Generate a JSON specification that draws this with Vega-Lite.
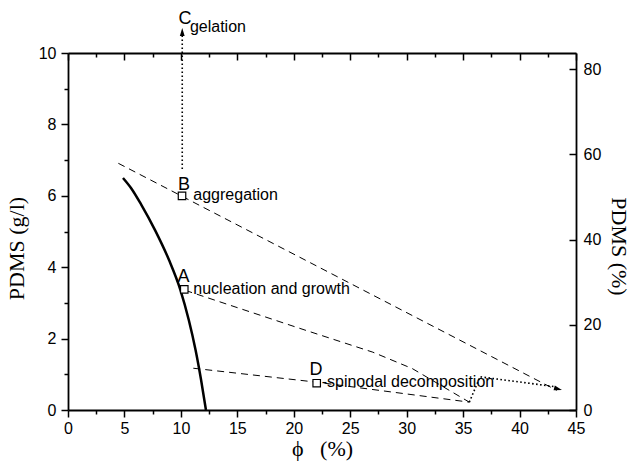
{
  "$schema": "https://vega.github.io/schema/vega-lite/v6.json",
  "width": 508,
  "height": 357,
  "autosize": "none",
  "padding": {"left": 68, "top": 53, "right": 58, "bottom": 56},
  "background": "white",
  "config": {
    "view": {"stroke": null},
    "axis": {
      "grid": false,
      "domainColor": "black",
      "domainWidth": 1.8,
      "tickColor": "black",
      "tickWidth": 1.5,
      "labelFont": "Liberation Sans",
      "labelFontSize": 16,
      "labelColor": "black",
      "labelFlush": false,
      "labelOverlap": false,
      "titleFont": "Liberation Serif",
      "titleFontSize": 22,
      "titleFontWeight": "normal",
      "titleColor": "black"
    },
    "text": {"font": "Liberation Sans", "color": "black"}
  },
  "datasets": {
    "curve": [
      {"x": 4.87, "y": 6.5},
      {"x": 5.58, "y": 6.22},
      {"x": 6.51, "y": 5.74},
      {"x": 7.71, "y": 5.04},
      {"x": 8.95, "y": 4.2},
      {"x": 9.96, "y": 3.36},
      {"x": 10.7, "y": 2.52},
      {"x": 11.3, "y": 1.68},
      {"x": 11.79, "y": 0.84},
      {"x": 12.22, "y": 0.0}
    ],
    "dashed": [
      {"line": "upper", "x": 4.46, "y": 6.91},
      {"line": "upper", "x": 43.3, "y": 0.55},
      {"line": "middle", "x": 10.4, "y": 3.35},
      {"line": "middle", "x": 20.5, "y": 2.29},
      {"line": "middle", "x": 27.0, "y": 1.62},
      {"line": "middle", "x": 30.5, "y": 1.16},
      {"line": "middle", "x": 35.55, "y": 0.22},
      {"line": "lower", "x": 11.1, "y": 1.17},
      {"line": "lower", "x": 22.0, "y": 0.78},
      {"line": "lower", "x": 35.55, "y": 0.22}
    ],
    "dotted": [
      {"line": "gel", "x": 10.12, "y": 6.75},
      {"line": "gel", "x": 10.12, "y": 10.5},
      {"line": "spin", "x": 35.55, "y": 0.22},
      {"line": "spin", "x": 36.5, "y": 0.93},
      {"line": "spin", "x": 43.0, "y": 0.66}
    ],
    "squares": [
      {"name": "B", "x": 10.1, "y": 6.0},
      {"name": "A", "x": 10.3, "y": 3.38},
      {"name": "D", "x": 22.03, "y": 0.75}
    ],
    "letters": [
      {"t": "C", "x": 10.36, "y": 10.81},
      {"t": "B", "x": 10.27, "y": 6.16},
      {"t": "A", "x": 10.23, "y": 3.59},
      {"t": "D", "x": 21.97, "y": 0.98}
    ],
    "words": [
      {"t": "gelation", "x": 10.8, "y": 10.6},
      {"t": "aggregation", "x": 11.1, "y": 5.88},
      {"t": "nucleation and growth", "x": 11.1, "y": 3.25},
      {"t": "-spinodal decomposition", "x": 22.47, "y": 0.65}
    ],
    "arrowUp": [{"x": 10.12, "y": 10.59}],
    "arrowRight": [{"x": 43.41, "y": 0.59}],
    "pct": [{"p": 0}, {"p": 80}]
  },
  "resolve": {"scale": {"y": "independent"}, "axis": {"x": "independent", "y": "independent"}},
  "layer": [
    {
      "resolve": {"axis": {"x": "independent", "y": "independent"}},
      "layer": [
        {
          "data": {"name": "curve"},
          "mark": {"type": "line", "color": "black", "strokeWidth": 2.5, "interpolate": "monotone"},
          "encoding": {
            "x": {"field": "x", "type": "quantitative", "scale": {"domain": [0, 45], "nice": false},
              "axis": {"orient": "bottom", "values": [0, 5, 10, 15, 20, 25, 30, 35, 40, 45], "tickSize": 7, "labelPadding": 3, "title": "ϕ\u00a0\u00a0 (%)", "titlePadding": 2}},
            "y": {"field": "y", "type": "quantitative", "scale": {"domain": [0, 10], "nice": false},
              "axis": {"orient": "left", "values": [0, 2, 4, 6, 8, 10], "tickSize": 7, "labelPadding": 5, "title": "PDMS (g/l)", "titlePadding": 10, "titleY": 195}}
          }
        },
        {
          "data": {"name": "curve"},
          "mark": {"type": "point", "opacity": 0},
          "encoding": {
            "x": {"field": "x", "type": "quantitative", "scale": {"domain": [0, 45], "nice": false},
              "axis": {"orient": "top", "values": [0, 5, 10, 15, 20, 25, 30, 35, 40, 45], "tickSize": -7, "labels": false, "title": null}},
            "y": {"field": "y", "type": "quantitative", "scale": {"domain": [0, 10], "nice": false},
              "axis": {"orient": "left", "values": [1, 3, 5, 7, 9], "tickSize": 4, "labels": false, "domain": false, "title": null}}
          }
        },
        {
          "data": {"name": "curve"},
          "mark": {"type": "point", "opacity": 0},
          "encoding": {
            "x": {"field": "x", "type": "quantitative", "scale": {"domain": [0, 45], "nice": false},
              "axis": {"orient": "top", "values": [2.5, 7.5, 12.5, 17.5, 22.5, 27.5, 32.5, 37.5, 42.5], "tickSize": -4, "labels": false, "domain": false, "title": null}},
            "y": {"field": "y", "type": "quantitative", "scale": {"domain": [0, 10], "nice": false}, "axis": null}
          }
        },
        {
          "data": {"name": "curve"},
          "mark": {"type": "point", "opacity": 0},
          "encoding": {
            "x": {"field": "x", "type": "quantitative", "scale": {"domain": [0, 45], "nice": false},
              "axis": {"orient": "bottom", "values": [2.5, 7.5, 12.5, 17.5, 22.5, 27.5, 32.5, 37.5, 42.5], "tickSize": 4, "labels": false, "domain": false, "title": null}},
            "y": {"field": "y", "type": "quantitative", "scale": {"domain": [0, 10], "nice": false}, "axis": null}
          }
        },
        {
          "data": {"name": "dashed"},
          "mark": {"type": "line", "color": "black", "strokeWidth": 1, "strokeDash": [7, 5]},
          "encoding": {
            "x": {"field": "x", "type": "quantitative", "scale": {"domain": [0, 45], "nice": false}, "axis": null},
            "y": {"field": "y", "type": "quantitative", "scale": {"domain": [0, 10], "nice": false}, "axis": null},
            "detail": {"field": "line"}
          }
        },
        {
          "data": {"name": "dotted"},
          "mark": {"type": "line", "color": "black", "strokeWidth": 1.6, "strokeDash": [1.6, 2.4]},
          "encoding": {
            "x": {"field": "x", "type": "quantitative", "scale": {"domain": [0, 45], "nice": false}, "axis": null},
            "y": {"field": "y", "type": "quantitative", "scale": {"domain": [0, 10], "nice": false}, "axis": null},
            "detail": {"field": "line"}
          }
        },
        {
          "data": {"name": "squares"},
          "mark": {"type": "point", "shape": "square", "size": 56, "filled": true, "fill": "white", "stroke": "black", "strokeWidth": 1.2, "opacity": 1},
          "encoding": {
            "x": {"field": "x", "type": "quantitative", "scale": {"domain": [0, 45], "nice": false}, "axis": null},
            "y": {"field": "y", "type": "quantitative", "scale": {"domain": [0, 10], "nice": false}, "axis": null}
          }
        },
        {
          "data": {"name": "letters"},
          "mark": {"type": "text", "fontSize": 18, "align": "center", "baseline": "alphabetic"},
          "encoding": {
            "x": {"field": "x", "type": "quantitative", "scale": {"domain": [0, 45], "nice": false}, "axis": null},
            "y": {"field": "y", "type": "quantitative", "scale": {"domain": [0, 10], "nice": false}, "axis": null},
            "text": {"field": "t"}
          }
        },
        {
          "data": {"name": "words"},
          "mark": {"type": "text", "fontSize": 16, "align": "left", "baseline": "alphabetic"},
          "encoding": {
            "x": {"field": "x", "type": "quantitative", "scale": {"domain": [0, 45], "nice": false}, "axis": null},
            "y": {"field": "y", "type": "quantitative", "scale": {"domain": [0, 10], "nice": false}, "axis": null},
            "text": {"field": "t"}
          }
        },
        {
          "data": {"name": "arrowUp"},
          "mark": {"type": "point", "shape": "M0,-1L0.6,1L-0.6,1Z", "size": 64, "filled": true, "color": "black", "opacity": 1},
          "encoding": {
            "x": {"field": "x", "type": "quantitative", "scale": {"domain": [0, 45], "nice": false}, "axis": null},
            "y": {"field": "y", "type": "quantitative", "scale": {"domain": [0, 10], "nice": false}, "axis": null}
          }
        },
        {
          "data": {"name": "arrowRight"},
          "mark": {"type": "point", "shape": "M0,-1L0.6,1L-0.6,1Z", "size": 64, "angle": 105, "filled": true, "color": "black", "opacity": 1},
          "encoding": {
            "x": {"field": "x", "type": "quantitative", "scale": {"domain": [0, 45], "nice": false}, "axis": null},
            "y": {"field": "y", "type": "quantitative", "scale": {"domain": [0, 10], "nice": false}, "axis": null}
          }
        }
      ]
    },
    {
      "data": {"name": "pct"},
      "mark": {"type": "point", "opacity": 0},
      "encoding": {
        "y": {"field": "p", "type": "quantitative", "scale": {"domain": [0, 83.8], "nice": false},
          "axis": {"orient": "right", "values": [0, 20, 40, 60, 80], "tickSize": -7, "labelPadding": 14, "title": "PDMS (%)", "titlePadding": 6, "titleY": 193}}
      }
    }
  ]
}
